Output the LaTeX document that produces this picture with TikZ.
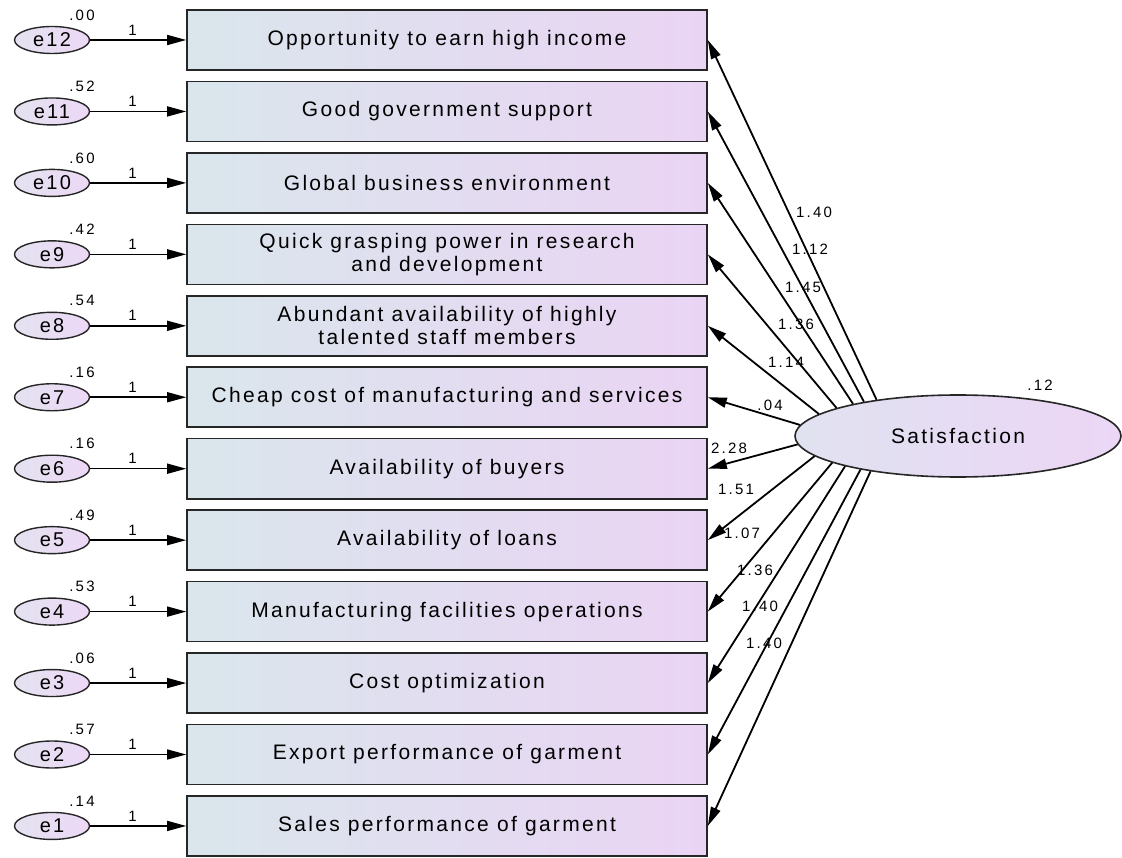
\documentclass[tikz,border=0pt]{standalone}
\usepackage{fontspec}
\setmainfont{Liberation Sans}
\newfontfamily\boxfont[LetterSpace=11]{Liberation Sans}
\newfontfamily\labfont[LetterSpace=15]{Liberation Sans}
\usetikzlibrary{arrows.meta,shapes.geometric,calc}
\definecolor{boxL}{RGB}{218,230,236}
\definecolor{boxR}{RGB}{234,212,244}
\definecolor{errL}{RGB}{228,226,240}
\definecolor{errR}{RGB}{236,216,246}
\definecolor{satL}{RGB}{224,226,240}
\definecolor{satR}{RGB}{236,214,246}
\tikzset{
  obs/.style={draw=black!85, line width=1.6pt, left color=boxL, right color=boxR,
    minimum width=520pt, minimum height=60pt, inner sep=0pt, align=center,
    font={\boxfont\fontsize{21}{23}\selectfont}},
  err/.style={ellipse, draw=black!85, line width=1.4pt, left color=errL, right color=errR,
    minimum width=75pt, minimum height=27pt, inner sep=0pt,
    font={\boxfont\fontsize{20}{22}\selectfont}},
  latent/.style={ellipse, draw=black!85, line width=1.6pt, left color=satL, right color=satR,
    minimum width=326pt, minimum height=82pt, inner sep=0pt,
    font={\boxfont\fontsize{21}{23}\selectfont}},
  lab/.style={inner sep=0pt, font={\labfont\fontsize{15}{17}\selectfont}},
  arr/.style={line width=1.5pt, -{Triangle[length=19pt,width=10pt]}},
  sarr/.style={line width=1.8pt, -{Triangle[length=19pt,width=10pt]}}
}
\begin{document}
\begin{tikzpicture}[x=1pt,y=-1pt]
\useasboundingbox (0,0) rectangle (1122,858);
\node[latent] (sat) at (958,436) {Satisfaction};
\node[lab] (satvar) at (1040,385) {.12};
\foreach \i/\en/\txt/\var/\ang/\co/\cx/\cy in {
  1/12/{Opportunity to earn high income}/.00/156.6/1.40/814/212,
  2/11/{Good government support}/.52/160.2/1.12/810/249,
  3/10/{Global business environment}/.60/163.3/1.45/803/287,
  4/9/{Quick grasping power in research\\and development}/.42/167.4/1.36/796/324,
  5/8/{Abundant availability of highly\\talented staff members}/.54/171.8/1.14/786/362,
  6/7/{Cheap cost of manufacturing and services}/.16/176.8/.04/770/405,
  7/6/{Availability of buyers}/.16/183.2/2.28/729/448,
  8/5/{Availability of loans}/.49/188.2/1.51/736/489,
  9/4/{Manufacturing facilities operations}/.53/192.1/1.07/742/533,
  10/3/{Cost optimization}/.06/195.8/1.36/755/570,
  11/2/{Export performance of garment}/.57/199.8/1.40/760/606,
  12/1/{Sales performance of garment}/.14/202.8/1.40/764/643}{
  \pgfmathsetmacro{\yy}{40+(\i-1)*71.45}
  \node[obs] (b\i) at (447,\yy) {\txt};
  \node[err] (e\en) at (52,\yy) {e\en};
  \node[lab] (v\en) at ($(e\en.center)+(30,-25)$) {\var};
  \draw[arr] (e\en.east) -- node[lab, pos=0.44, yshift=10pt] (one\en) {1} (b\i.west);
  \draw[sarr] (sat.\ang) -- (b\i.east);
  \node[lab] (c\i) at (\cx,\cy) {\co};
}
\end{tikzpicture}
\end{document}
